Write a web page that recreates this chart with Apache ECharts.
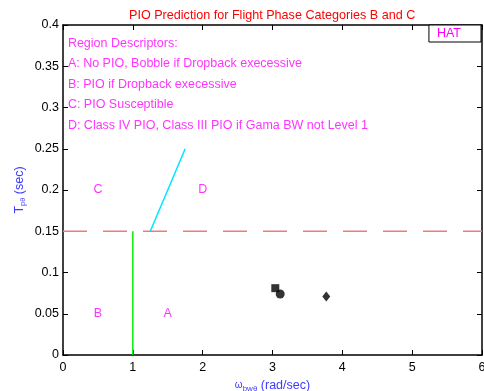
<!DOCTYPE html>
<html><head><meta charset="utf-8">
<script src="https://cdn.jsdelivr.net/npm/echarts@6/dist/echarts.min.js"></script>
<style>html,body{margin:0;padding:0;background:#fff}#c{width:484px;height:391px}</style>
</head><body><div id="c"></div>
<script>
const titleText = 'PIO Prediction for Flight Phase Categories B and C';
const xTicks = [0,1,2,3,4,5,6];
const yTicks = [0,0.05,0.1,0.15,0.2,0.25,0.3,0.35,0.4];
const dashedLine = [[0,0.15],[6,0.15]];
const greenLine = [[1,0],[1,0.15]];
const cyanLine = [[1.25,0.15],[1.75,0.25]];
const squarePts = [[3.04,0.081]];
const circlePts = [[3.11,0.074]];
const diamondPts = [[3.77,0.071]];
const regionLabels = [['C',0.5,0.2],['D',2,0.2],['B',0.5,0.05],['A',1.5,0.05]];
const descriptors = [
  ['Region Descriptors:',0.07,0.378],
  ['A: No PIO, Bobble if Dropback execessive',0.07,0.353],
  ['B: PIO if Dropback execessive',0.07,0.328],
  ['C: PIO Susceptible',0.07,0.303],
  ['D: Class IV PIO, Class III PIO if Gama BW not Level 1',0.07,0.278]
];
const FONT = 'Liberation Sans, Arial, sans-serif';
const chart = echarts.init(document.getElementById('c'));
const mag = '#ff00ff';
const blue = '#3c3cff';
const axisCommon = {
  type:'value', axisLine:{show:true,onZero:false,lineStyle:{color:'#000',width:1.5}},
  axisTick:{show:true,inside:true,length:5,lineStyle:{color:'#000',width:1}},
  splitLine:{show:false}
};
function textSeries(arr, size){
  return {type:'scatter', symbolSize:0, silent:true, z:5,
    data: arr.map(d=>({value:[d[1],d[2]], name:d[0]})),
    label:{show:true, position:'inside', formatter:p=>p.name, color:mag, fontSize:size, fontFamily:FONT}};
}
chart.setOption({
  animation:false,
  title:{text:titleText,left:124,top:4,textStyle:{color:'#ff0000',fontSize:12.6,fontWeight:'normal',fontFamily:FONT}},
  legend:{show:true,data:[{name:'HAT',icon:'none'}],right:3,top:25,itemWidth:0,itemHeight:0,itemGap:0,padding:[2,20,2,3],
    borderColor:'#000',borderWidth:1,borderRadius:0,backgroundColor:'#fff',
    textStyle:{color:mag,fontSize:12.5,fontFamily:FONT}},
  grid:{left:63,right:2,top:25,bottom:36,containLabel:false,outerBoundsMode:'none'},
  xAxis:[
    Object.assign({},axisCommon,{min:0,max:6,interval:1,position:'bottom',
      axisLabel:{color:'#000',fontSize:12.5,fontFamily:FONT,margin:6},
      name:'{w|ω}{sub|bwθ}{s| (rad/sec)}',nameLocation:'middle',nameGap:20,
      nameTextStyle:{rich:{w:{color:blue,fontSize:10,fontFamily:FONT},s:{color:blue,fontSize:12.5,fontFamily:FONT},sub:{color:blue,fontSize:8,fontFamily:FONT,padding:[7,0,0,0]}}}}),
    Object.assign({},axisCommon,{min:0,max:6,interval:1,position:'top',axisLabel:{show:false}})
  ],
  yAxis:[
    Object.assign({},axisCommon,{min:0,max:0.4,interval:0.05,position:'left',
      axisLabel:{color:'#000',fontSize:12.5,fontFamily:FONT,margin:4},
      name:'{s|T}{sub|pθ}{s| (sec)}',nameLocation:'middle',nameGap:36,nameRotate:90,nameMoveOverlap:false,
      nameTextStyle:{rich:{s:{color:blue,fontSize:12.5,fontFamily:FONT},sub:{color:blue,fontSize:7.5,fontFamily:FONT,padding:[7,0,0,0]}}}}),
    Object.assign({},axisCommon,{min:0,max:0.4,interval:0.05,position:'right',axisLabel:{show:false}})
  ],
  series:[
    {type:'line',data:dashedLine,symbol:'none',lineStyle:{color:'#f47a7a',width:1.5,type:[24,16]},silent:true},
    {type:'line',data:greenLine,symbol:'none',lineStyle:{color:'#00ee00',width:1.5},silent:true},
    {type:'line',data:cyanLine,symbol:'none',lineStyle:{color:'#00e5ff',width:1.5},silent:true},
    {name:'HAT',type:'scatter',data:squarePts,symbol:'rect',symbolSize:8,itemStyle:{color:'#000'}},
    {type:'scatter',data:circlePts,symbol:'circle',symbolSize:9,itemStyle:{color:'#000'}},
    {type:'scatter',data:diamondPts,symbol:'diamond',symbolSize:[8,10],itemStyle:{color:'#000'}},
    textSeries(regionLabels,12.5),
    Object.assign(textSeries(descriptors,12.5),{label:{show:true,position:'right',distance:0,formatter:p=>p.name,color:mag,fontSize:12.5,fontFamily:FONT}})
  ]
});
</script></body></html>
